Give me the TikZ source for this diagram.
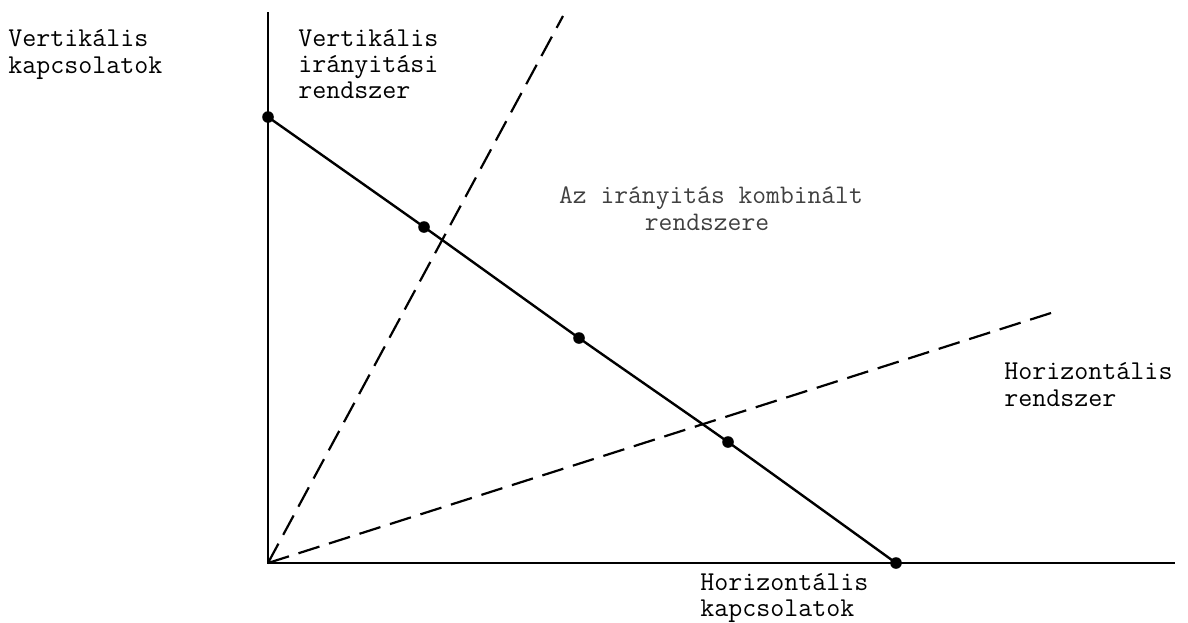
\documentclass[tikz,border=0pt]{standalone}
\begin{document}
\begin{tikzpicture}[x=0.5pt,y=-0.5pt,
  axisline/.style={line width=1.3pt},
  curveline/.style={line width=1.2pt},
  dashline/.style={line width=1.1pt,dash pattern=on 11pt off 5pt},
  dot/.style={circle,fill=black,inner sep=0pt,minimum size=5.8pt},
  lbl/.style={font=\ttfamily\fontsize{13.6}{13}\selectfont,inner sep=0pt,anchor=base west},
  lbllight/.style={font=\ttfamily\fontsize{13.4}{13}\selectfont,inner sep=0pt,anchor=base,text=black!75}]
\useasboundingbox (0,0) rectangle (1188,622);
% axes
\coordinate (O) at (268,563);
\coordinate (ytop) at (268,12);
\coordinate (xend) at (1175,563);
\draw[axisline] (ytop) -- (O) -- (xend);
% dashed lines
\coordinate (d1end) at (563,16);
\coordinate (d2end) at (1051,313);
\draw[dashline] (O) -- (d1end);
\draw[dashline] (O) -- (d2end);
% curve points
\coordinate (p1) at (268,117);
\coordinate (p2) at (424,227);
\coordinate (p3) at (579,338);
\coordinate (p4) at (728,442);
\coordinate (p5) at (896,563);
\draw[curveline] plot[smooth,tension=0.4] coordinates {(p1) (p2) (p3) (p4) (p5)};
\node[dot] (n1) at (p1) {};
\node[dot] (n2) at (p2) {};
\node[dot] (n3) at (p3) {};
\node[dot] (n4) at (p4) {};
\node[dot] (n5) at (p5) {};
% labels
\node[lbl] (vk1) at (8,46) {Vertikális};
\node[lbl] (vk2) at (8,73) {kapcsolatok};
\node[lbl] (vi1) at (298,46) {Vertikális};
\node[lbl] (vi2) at (298,72) {irányitási};
\node[lbl] (vi3) at (298,98) {rendszer};
\node[lbllight] (c1) at (711,203) {Az irányitás kombinált};
\node[lbllight] (c2) at (707,230) {rendszere};
\node[lbl] (hr1) at (1004,379) {Horizontális};
\node[lbl] (hr2) at (1004,406) {rendszer};
\node[lbl] (hk1) at (700,590) {Horizontális};
\node[lbl] (hk2) at (700,616) {kapcsolatok};
\end{tikzpicture}
\end{document}
